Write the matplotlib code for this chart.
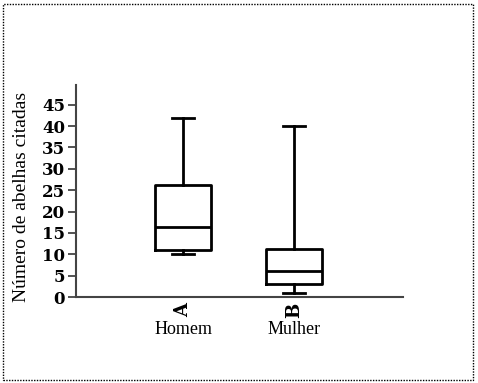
import matplotlib.pyplot as plt
from matplotlib.patches import Rectangle
from matplotlib.transforms import blended_transform_factory

plt.rcParams['font.family'] = ['Liberation Serif', 'DejaVu Serif']

# valores
grupos = ["A", "B"]
nomes = ["Homem", "Mulher"]
minimo = [10, 1]
q1 = [11, 3]
mediana = [16.3, 6.1]
q3 = [26.2, 11.2]
maximo = [42, 40]

stats = []
for i in range(len(grupos)):
    stats.append({"whislo": minimo[i], "q1": q1[i], "med": mediana[i],
                  "q3": q3[i], "whishi": maximo[i], "label": grupos[i]})

fig = plt.figure(figsize=(4.78, 3.83), dpi=100)
ax = fig.add_axes([0.159, 0.2245, 0.684, 0.5535])

lw = 2.0
ax.bxp(stats, positions=[1, 2], widths=0.505, showfliers=False,
       capwidths=0.2,
       boxprops=dict(color="black", linewidth=lw),
       whiskerprops=dict(color="black", linewidth=lw),
       capprops=dict(color="black", linewidth=lw),
       medianprops=dict(color="black", linewidth=lw))

ax.set_xlim(0.036, 2.98)
ax.set_ylim(0, 49.6)
ax.set_yticks(range(0, 50, 5))
ax.set_xticks([1, 2])
ax.set_xticklabels(grupos, rotation=90, fontweight="bold", fontsize=13,
                   family="DejaVu Serif")
for lab in ax.get_yticklabels():
    lab.set_fontweight("bold")
    lab.set_fontsize(12)
    lab.set_family("DejaVu Serif")

for s in ["top", "right"]:
    ax.spines[s].set_visible(False)
for s in ["left", "bottom"]:
    ax.spines[s].set_color("#444444")
    ax.spines[s].set_linewidth(1.5)
ax.tick_params(axis="y", direction="out", length=6, width=1.3, color="#444444", pad=2)
ax.tick_params(axis="x", length=0, pad=4)

ax.set_ylabel("Número de abelhas citadas", fontsize=14)
ax.yaxis.set_label_coords(-0.141, 0.47)

trans = blended_transform_factory(ax.transData, ax.transAxes)
for i, nome in enumerate(nomes):
    ax.text(i + 1, -0.154, nome, transform=trans, ha="center", va="center", fontsize=13)

# moldura pontilhada
fig.patches.append(Rectangle((3 / 478, 3 / 383), 470 / 478, 376 / 383,
                             transform=fig.transFigure, fill=False,
                             edgecolor="black", linewidth=1, linestyle=(0, (1, 1))))

fig.savefig("out.png", dpi=100)
